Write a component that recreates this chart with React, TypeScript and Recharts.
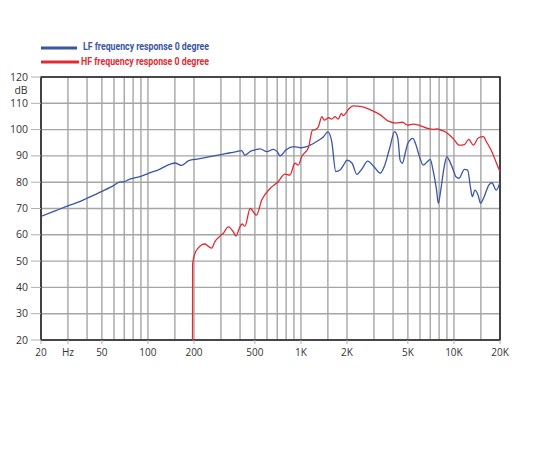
import React from 'react';
import {
  LineChart,
  Line,
  XAxis,
  YAxis,
  CartesianGrid,
  ReferenceArea,
} from 'recharts';

// LF response, 0 degree (frequency in Hz, level in dB)
const lfFreq = [
  20, 25, 30, 35, 40, 50, 60, 65, 70, 75, 80, 90, 100, 120, 140, 150, 165, 185, 210, 250,
  300, 345, 380, 410, 430, 470, 500, 540, 600, 660, 700, 730, 800, 900, 1000, 1090, 1150,
  1260, 1400, 1500, 1590, 1690, 1800, 1900, 2000, 2160, 2320, 2500, 2730, 3000, 3300, 3500,
  3800, 4100, 4300, 4450, 4600, 4800, 5000, 5400, 5600, 6000, 6300, 6700, 7000, 7300, 7700,
  7900, 8200, 8600, 9000, 9300, 10000, 10300, 10800, 11700, 12300, 12800, 13200, 13700,
  14400, 14900, 15600, 16900, 17700, 18900, 20000,
];
const lfDb = [
  67, 69.2, 71, 72.4, 73.9, 76.5, 78.8, 80, 80.2, 81, 81.5, 82.2, 83.3, 85, 86.9, 87.3, 86.4,
  88.2, 88.8, 89.6, 90.5, 91.2, 91.6, 92, 90.3, 91.8, 92.3, 92.7, 91.6, 92.5, 91.6, 90, 92.3,
  93.5, 93.1, 93.5, 94.1, 95.4, 97.2, 99.1, 95.4, 84, 84.6, 86.5, 88.4, 87.2, 83, 85, 88,
  85.9, 83.4, 85.9, 92.9, 99.2, 96.7, 88.3, 87.2, 91, 94.8, 96.7, 94.8, 89.1, 86.5, 87.8,
  88.7, 84.6, 77, 72, 77, 85.3, 89.7, 88.4, 84, 82.1, 81.5, 84.9, 84.6, 78.3, 74.5, 77, 75,
  72, 73.9, 78.9, 79.8, 77, 80,
];

// HF response, 0 degree
const hfFreq = [
  195.5, 196, 203, 213, 224, 236, 247, 261, 274, 296, 311, 335, 361, 376, 395, 412, 430, 466,
  512, 554, 631, 710, 783, 848, 913, 962, 1010, 1120, 1190, 1240, 1300, 1370, 1420, 1520,
  1590, 1670, 1750, 1840, 1890, 2030, 2190, 2500, 2850, 3300, 3700, 4200, 4600, 5000, 5400,
  6000, 6700, 7300, 7800, 8200, 8600, 10000, 10800, 11700, 12500, 13400, 14400, 15600,
  16300, 17700, 18900, 20000,
];
const hfDb = [
  20, 49, 53, 54.9, 56.1, 56.5, 55.7, 54.9, 57.4, 59.5, 60.6, 63, 61.2, 59.5, 62.4, 64.1,
  63.3, 70, 67.5, 73.2, 77.7, 80.2, 83.1, 82.7, 87.2, 86.5, 89.7, 93.2, 99.8, 100, 101.1,
  104.9, 103.6, 104.5, 104, 104.9, 104, 106.2, 105.3, 107.5, 109, 108.7, 107.5, 105.6, 103.3,
  102.5, 102.8, 101.7, 102.1, 101.5, 100.5, 100.1, 100.3, 99.8, 99.4, 96.3, 94.1, 94.3, 96.3,
  94.1, 96.8, 97.3, 95.4, 91.6, 87.5, 84,
];

const gridFreqs = [
  20, 30, 40, 50, 60, 70, 80, 90, 100, 150, 200, 300, 400, 500, 600, 700, 800, 900, 1000,
  1500, 2000, 3000, 4000, 5000, 6000, 7000, 8000, 9000, 10000, 15000, 20000,
];
const freqLabels: Record<number, string> = {
  20: '20', 30: 'Hz', 50: '50', 100: '100', 200: '200', 500: '500',
  1000: '1K', 2000: '2K', 5000: '5K', 10000: '10K', 20000: '20K',
};
const dbTicks = [20, 30, 40, 50, 60, 70, 80, 90, 100, 110, 120];

const lfData = lfFreq.map((f, i) => ({ f, db: lfDb[i] }));
const hfData = hfFreq.map((f, i) => ({ f, db: hfDb[i] }));

const LF_COLOR = '#3a55a4';
const HF_COLOR = '#e02b34';
const FONT = "'Open Sans', 'Liberation Sans', sans-serif";

const XTick = (props: any) => {
  const { x, y, payload } = props;
  const label = freqLabels[payload.value];
  if (!label) return null;
  return (
    <g>
      <line x1={x} x2={x} y1={y} y2={y + 4} stroke="#b0b0b0" strokeWidth={1} />
      <text x={x} y={y + 16} textAnchor="middle" fontSize={10} fontFamily={FONT} fill="#333">
        {label}
      </text>
    </g>
  );
};

const YTick = (props: any) => {
  const { x, y, payload } = props;
  return (
    <g>
      <line x1={x - 10} x2={x} y1={y} y2={y} stroke="#b0b0b0" strokeWidth={1} />
      <text x={x - 13} y={y + 3.5} textAnchor="end" fontSize={10.5} fontFamily={FONT} fill="#333">
        {payload.value}
      </text>
      {payload.value === 120 && (
        <text x={x - 20} y={y + 17} textAnchor="middle" fontSize={10.5} fontFamily={FONT} fill="#333">
          dB
        </text>
      )}
    </g>
  );
};

export default function App() {
  return (
    <div style={{ position: 'absolute', left: 0, top: 0, width: 550, height: 450, background: '#fff' }}>
      <LineChart
        width={550}
        height={450}
        margin={{ top: 77, right: 50, left: 0, bottom: 80 }}
      >
        <CartesianGrid stroke="#a5a5a5" strokeWidth={1.4} />
        <XAxis
          dataKey="f"
          type="number"
          scale="log"
          domain={[20, 20000]}
          ticks={gridFreqs}
          interval={0}
          allowDataOverflow
          axisLine={false}
          tickLine={false}
          tickSize={0}
          tickMargin={0}
          height={30}
          tick={<XTick />}
        />
        <YAxis
          type="number"
          domain={[20, 120]}
          ticks={dbTicks}
          interval={0}
          allowDataOverflow
          axisLine={false}
          tickLine={false}
          tickSize={0}
          tickMargin={0}
          width={41}
          tick={<YTick />}
        />
        <ReferenceArea
          x1={20}
          x2={20000}
          y1={20}
          y2={120}
          fill="none"
          stroke="#222"
          strokeWidth={1.6}
          ifOverflow="visible"
        />
        <Line
          data={lfData}
          dataKey="db"
          type="monotone"
          stroke={LF_COLOR}
          strokeWidth={1.3}
          dot={false}
          isAnimationActive={false}
        />
        <Line
          data={hfData}
          dataKey="db"
          type="monotone"
          stroke={HF_COLOR}
          strokeWidth={1.3}
          dot={false}
          isAnimationActive={false}
        />
      </LineChart>
      <svg
        width={550}
        height={450}
        style={{ position: 'absolute', left: 0, top: 0, pointerEvents: 'none' }}
      >
        <line x1={41} x2={77} y1={48} y2={48} stroke={LF_COLOR} strokeWidth={3} />
        <text
          x={83}
          y={49.5}
          fontSize={10.5}
          fontWeight={700}
          fontFamily="'Liberation Sans Narrow', 'Roboto', sans-serif"
          fill={LF_COLOR}
          textLength={126}
          lengthAdjust="spacingAndGlyphs"
        >
          LF frequency response 0 degree
        </text>
        <line x1={41} x2={79} y1={62} y2={62} stroke={HF_COLOR} strokeWidth={3} />
        <text
          x={81}
          y={64.5}
          fontSize={10.5}
          fontWeight={700}
          fontFamily="'Liberation Sans Narrow', 'Roboto', sans-serif"
          fill={HF_COLOR}
          textLength={128}
          lengthAdjust="spacingAndGlyphs"
        >
          HF frequency response 0 degree
        </text>
      </svg>
    </div>
  );
}
